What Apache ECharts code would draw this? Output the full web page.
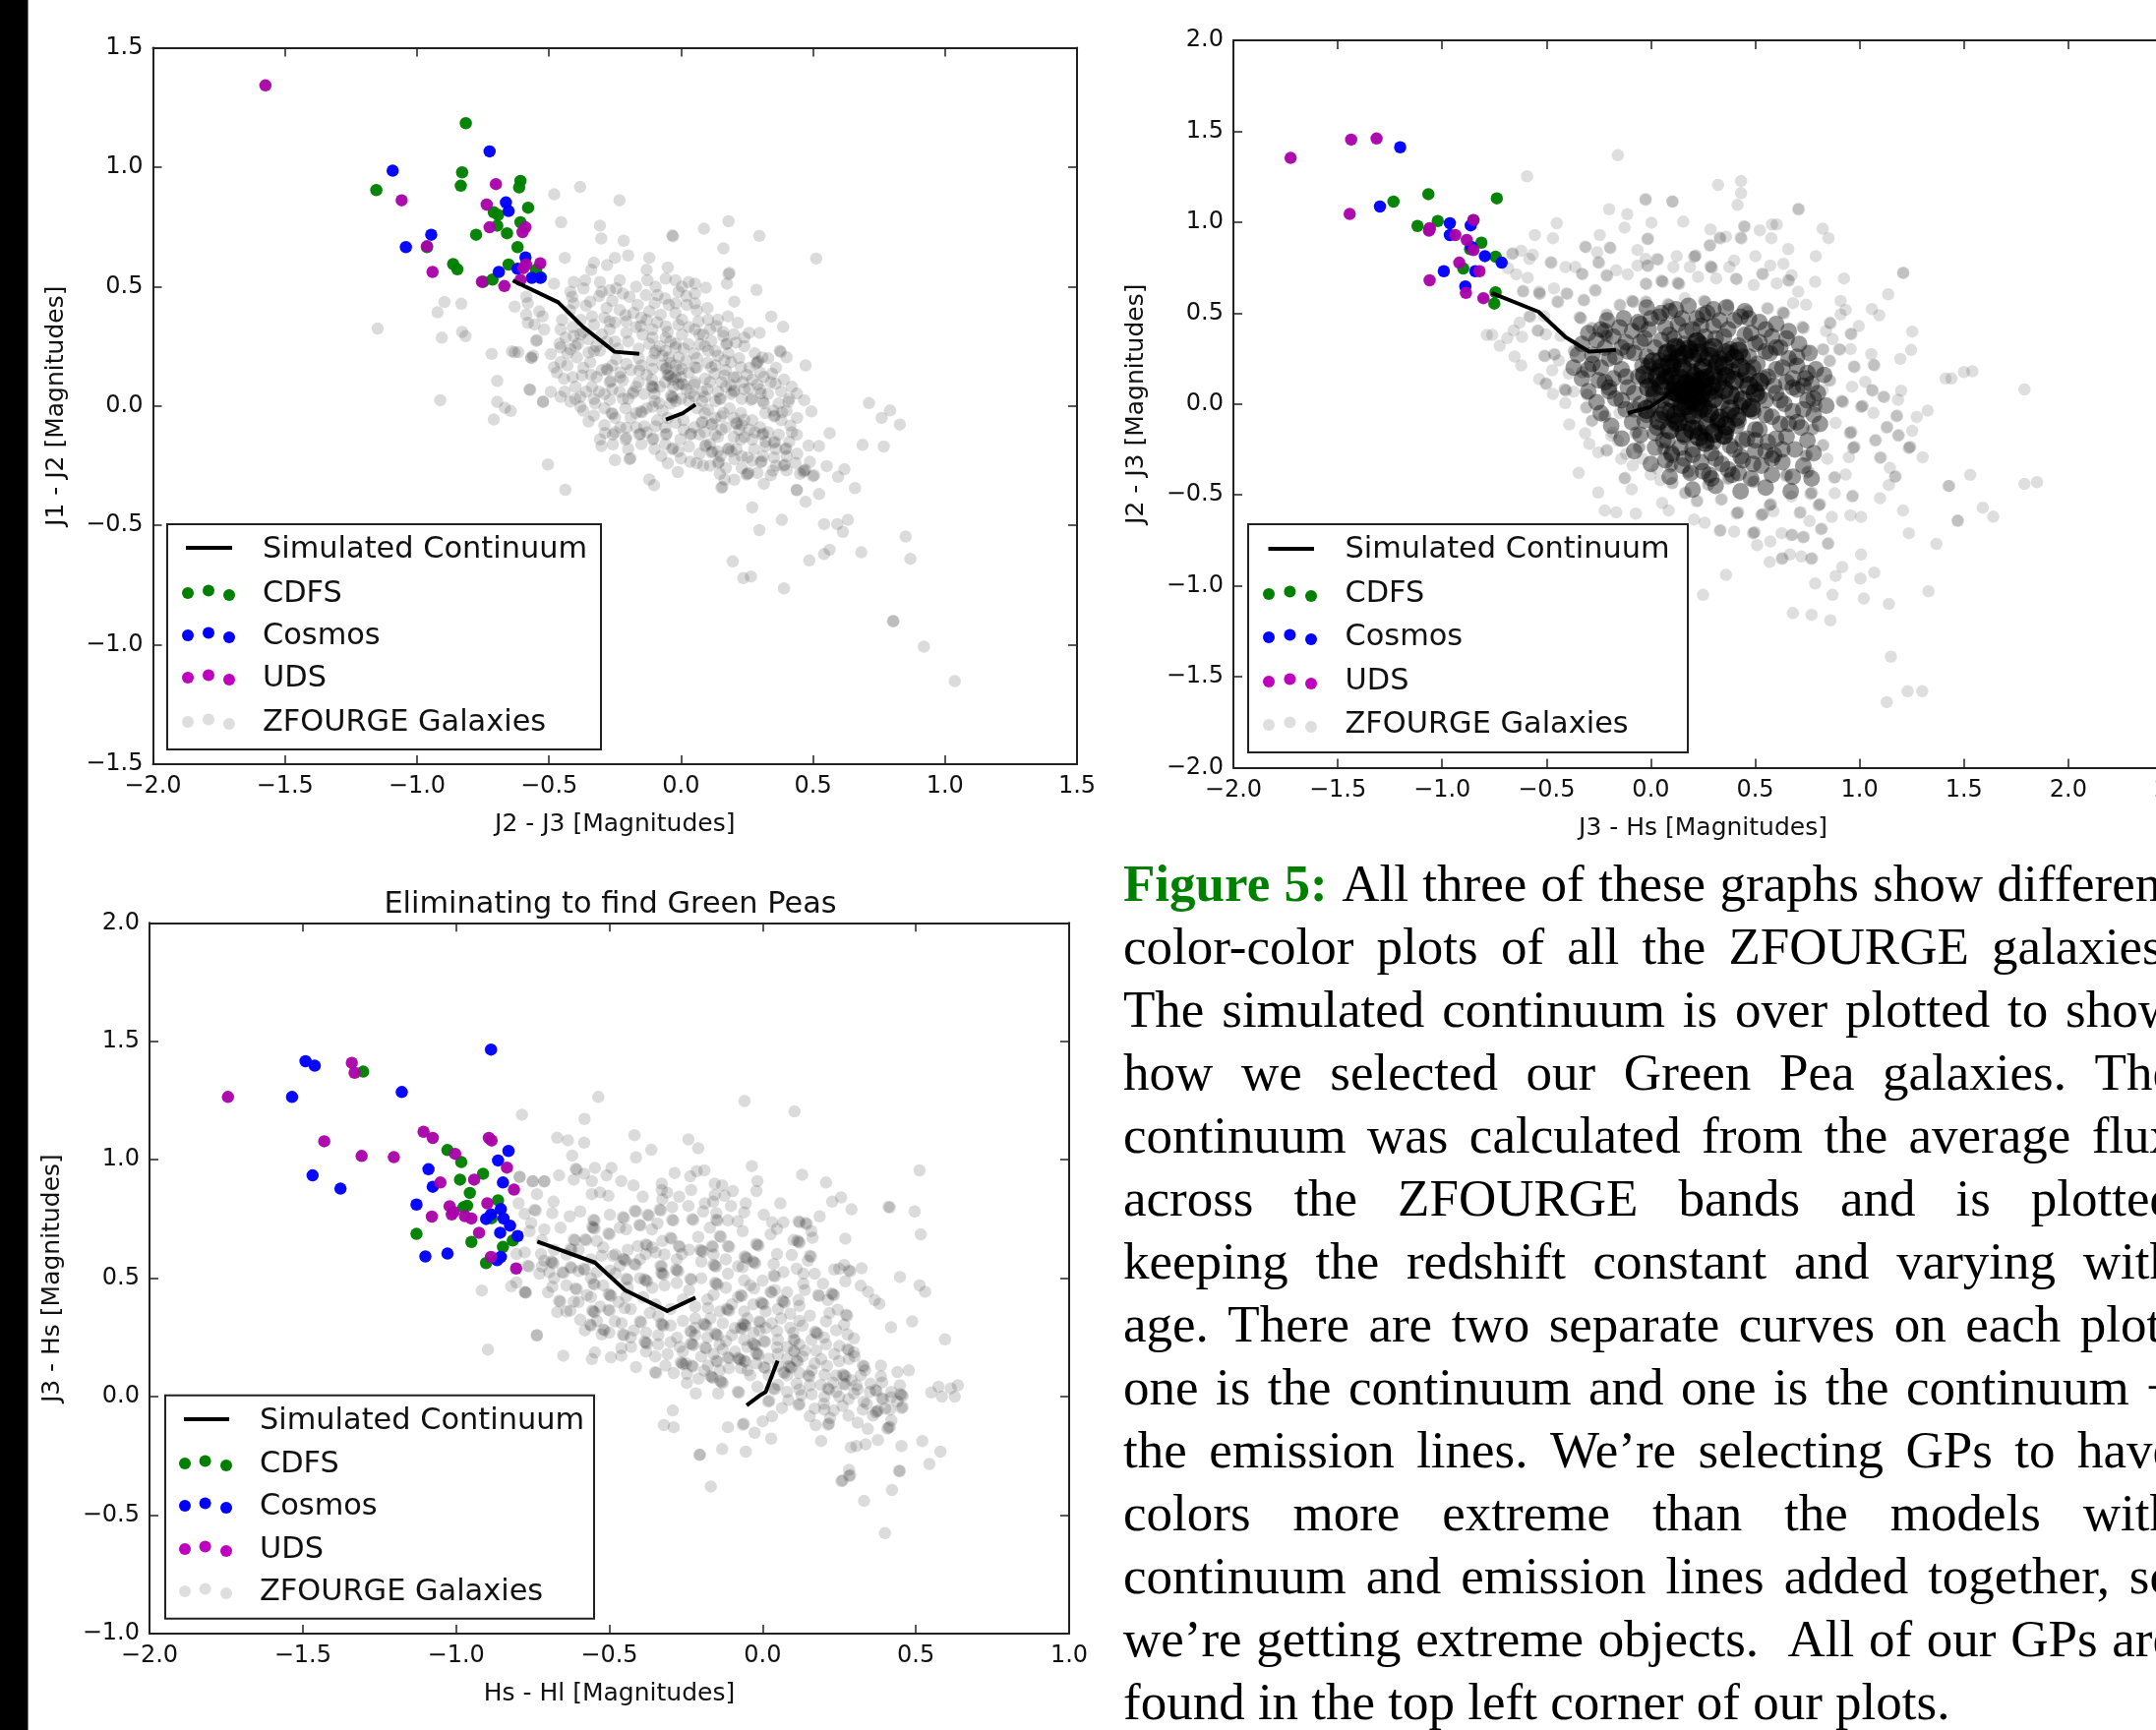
<!DOCTYPE html>
<html><head><meta charset="utf-8">
<style>html,body{margin:0;padding:0;background:#fff;overflow:hidden}#c{width:2192px;height:1759px}</style>
<script src="https://cdn.jsdelivr.net/npm/echarts@6/dist/echarts.min.js"></script>
</head><body><div id="c"></div>
<script>
// ---------- Plot 1: J2-J3 vs J1-J2 ----------
const cdfs1=[[-.815,1.184],[-.829,.978],[-.834,.922],[-.608,.942],[-.613,.915],[-.579,.83],[-1.154,.904],[-.709,.811],[-.693,.8],[-.696,.755],[-.608,.769],[-.659,.723],[-.776,.717],[-.619,.665],[-.962,.665],[-.863,.594],[-.847,.572],[-.653,.592],[-.549,.57],[-.53,.538],[-.749,.52],[-.714,.529]];
const cosmos1=[[-.725,1.066],[-1.092,.985],[-.663,.852],[-.653,.816],[-.946,.717],[-1.042,.665],[-.589,.622],[-.69,.561],[-.619,.574],[-.565,.536],[-.533,.536]];
const uds1=[[-1.574,1.342],[-.701,.929],[-1.058,.861],[-.736,.843],[-.725,.748],[-.6,.728],[-.589,.748],[-.962,.669],[-.941,.561],[-.587,.592],[-.597,.577],[-.533,.597],[-.608,.527],[-.754,.52],[-.669,.502]];
const curveA1=[[-.637,.525],[-.465,.434],[-.372,.332],[-.252,.227],[-.158,.218]];
const curveB1=[[-.057,-.057],[.007,-.03],[.055,.006]];
const galaxies1=[-1.149,.324,-.896,.435,-.832,.428,-.922,.392,-.906,.286,-.829,.31,-.816,.292,-.912,.024,-.717,.218,-.64,.229,-.616,.225,-.566,.2,-.696,.105,-.571,.067,-.696,.017,-.709,-.057,-.667,-.008,-.645,-.021,-.523,.017,-.504,-.245,-.438,-.351,-.48,.886,-.382,.917,-.233,.861,-.454,.769,-.307,.755,-.302,.701,-.217,.692,-.033,.714,-.03,.71,.087,.742,.18,.773,.297,.712,.512,.617,.161,.66,.18,.552,.184,.557,.286,.486,.342,.374,.387,.331,.374,.231,.378,.226,.4,.204,.472,.17,.467,.024,.494,-.023,.712,.012,.76,-.05,.792,-.019,.829,-.078,.688,-.163,.768,-.17,.563,-.114,.523,-.168,.483,-.166,.552,-.252,.619,-.265,.595,-.297,.659,-.344,.438,-.351,.523,-.369,.472,-.401,.27,-.425,.382,-.477,.297,-.52,.542,-.495,.592,-.495,.632,-.477,.613,-.527,.196,-.651,.236,-.721,.265,-.714,.39,-.764,.486,-.647,.542,-.62,.563,-.602,.683,-.613,.851,-.547,.869,-.64,.803,-.902,.805,-.9,.92,-1.008,1.037,-1.152,
-.44,.62,-.33,.6,-.34,.57,-.28,.59,-.25,.62,-.12,.62,-.13,.57,-.05,.58,-.2,.63,.174,.512,.094,.495,.053,.512,.029,.519,-.021,.526,-.058,.533,.053,.471,-.009,.478,.004,.499,-.096,.499,-.127,.526,-.17,.499,-.232,.526,-.245,.492,-.307,.519,-.301,.478,-.363,.526,-.406,.519,-.481,.512,-.419,.478,-.369,.492,-.27,.485,-.195,.457,-.133,.464,-.089,.464,.202,.437,-.046,.423,.022,.423,.053,.43,
-.412,.457,-.406,.43,-.344,.437,-.282,.41,-.164,.423,-.12,.396,-.077,.382,-.021,.389,.004,.361,-.232,.402,-.337,.375,-.27,.354,-.207,.354,-.152,.334,-.108,.32,-.058,.334,.066,.354,.103,.361,.14,.361,.178,.375,.215,.348,.134,.334,-.586,.457,-.58,.43,-.586,.382,-.524,.375,-.58,.348,-.518,.32,-.456,.32,-.63,.416,-.555,.341,-.537,.396,-.549,.272,-.545,.276,-.63,.224,-.568,.203,-.56,.21,
-.381,.299,-.406,.293,-.437,.286,-.456,.245,-.493,.217,-.419,.238,-.35,.224,-.307,.231,-.27,.32,-.207,.306,-.145,.299,-.108,.286,-.058,.286,.004,.299,.053,.32,.084,.299,.115,.272,.16,.293,.171,.258,.175,.262,.24,.286,.258,.306,.298,.306,.209,.265,-.021,.245,.029,.258,.072,.258,.103,.231,-.058,.231,-.096,.231,
-.481,.162,-.456,.183,-.394,.203,-.344,.183,-.282,.155,-.278,.15,-.245,.196,-.207,.176,-.158,.148,-.108,.155,-.046,.203,-.009,.203,-.058,.155,-.054,.16,-.046,.128,-.04,.122,.004,.155,.053,.162,.115,.162,.165,.19,.19,.183,.128,.135,.165,.128,.227,.162,.289,.183,.285,.178,.293,.187,.308,.203,.345,.135,.314,.121,.358,.093,.234,.1,.19,.087,.153,.1,.091,.114,.053,.1,.004,.093,-.108,.08,-.104,.076,-.112,.084,-.17,.08,-.22,.107,-.27,.1,-.265,.105,-.319,.121,-.375,.128,-.443,.114,-.4,.08,-.337,.08,
-.574,.069,-.493,.059,-.456,.038,-.522,.018,-.419,.018,-.381,.038,-.381,-.003,-.325,.011,-.27,.025,-.183,.052,-.232,.059,-.083,.011,-.034,.038,-.03,.033,-.038,.043,.035,.052,.091,.038,.147,.032,.15,.028,.202,.066,.258,.073,.302,.052,.439,.052,.407,.018,.314,.011,.265,.025,.184,-.01,.227,-.03,.209,-.071,.212,-.075,.153,-.044,.103,-.016,-.152,-.023,-.148,-.027,-.263,-.03,-.259,-.034,-.108,-.003,-.35,-.065,.352,-.044,.356,-.04,.383,-.026,
.414,-.082,.439,-.12,.308,-.12,.312,-.116,.24,-.058,.078,-.071,.082,-.067,.115,-.078,.119,-.074,.153,-.099,.035,-.12,.039,-.116,-.058,-.12,-.054,-.116,-.108,-.14,-.104,-.136,-.158,-.12,-.154,-.116,-.207,-.092,-.139,-.085,-.096,-.085,-.288,-.113,-.307,-.14,-.258,-.12,-.301,-.168,-.258,-.161,-.207,-.133,-.034,-.181,-.03,-.177,-.002,-.14,.091,-.168,.095,-.164,.115,-.195,.119,-.191,.178,-.181,.182,-.177,.227,-.14,.277,-.181,.258,-.099,.352,-.154,.356,-.15,.395,-.181,.399,-.177,.32,-.168,
-.075,-.209,.035,-.234,.084,-.25,.14,-.239,.144,-.235,.202,-.223,.252,-.216,.302,-.236,.306,-.232,.352,-.216,.389,-.25,.393,-.246,.434,-.239,.488,-.234,.467,-.271,.471,-.267,.463,-.275,.5,-.294,.504,-.29,.451,-.284,.348,-.271,.252,-.284,.256,-.28,.248,-.288,.202,-.309,.165,-.309,.147,-.284,.153,-.343,.157,-.339,-.012,-.277,-.195,-.223,-.191,-.219,-.25,-.227,-.12,-.308,-.102,-.332,.314,-.326,.439,-.353,
-.02,.12,.01,.09,-.06,.1,-.1,.05,-.02,.02,.03,.14,-.07,.17,-.13,.13,-.02,.17,.05,.04,-.16,.1,-.23,.14,-.03,.08,.08,.02,-.2,.03,.1,.07,.13,.02,.19,.05,.23,.03,.06,.2,-.02,.26,-.1,.22,-.16,.2,-.25,.27,-.3,.3,-.33,.23,-.4,.25,.14,.21,.2,.12,.27,.11,.3,.07,.22,-.1,.14,-.13,.07,-.12,.01,-.06,-.05,-.05,-.19,-.05,-.23,-.09,-.31,.06,.32,-.03,.27,-.14,.21,-.18,.14,-.19,
-.42,.4,-.38,.36,-.36,.42,-.31,.46,-.26,.44,-.22,.47,-.18,.39,-.15,.37,-.1,.43,-.06,.45,-.02,.43,.02,.46,.06,.4,.1,.41,-.45,.36,-.41,.33,-.37,.31,-.33,.34,-.29,.37,-.25,.35,-.21,.38,-.17,.33,-.13,.36,-.09,.35,-.05,.31,-.01,.34,.03,.33,.07,.3,.11,.32,.16,.31,.2,.3,.24,.25,.28,.22,.33,.2,.36,.16,.39,.11,.42,.08,
-.46,.26,-.43,.22,-.39,.26,-.35,.28,-.32,.25,-.28,.27,-.24,.24,-.2,.27,-.16,.24,-.12,.26,-.08,.25,-.04,.27,.01,.24,.05,.22,.09,.25,.13,.23,.18,.22,.22,.2,.26,.16,.3,.14,.34,.1,.38,.06,.41,.03,
-.47,.14,-.43,.17,-.41,.12,-.37,.16,-.34,.13,-.3,.15,-.26,.17,-.23,.12,-.19,.15,-.15,.17,-.11,.19,-.07,.21,-.04,.18,-.01,.15,.02,.19,.06,.16,.1,.18,.13,.17,.17,.15,.21,.12,.25,.13,.29,.09,.33,.05,.37,.01,.4,-.02,.44,-.05,
-.44,.06,-.4,.03,-.36,.06,-.33,.03,-.29,.05,-.26,.07,-.22,.03,-.18,.06,-.14,.05,-.11,.11,-.08,.08,-.05,.13,-.03,.11,0,.12,-.01,.09,.02,.07,.05,.09,.08,.06,.11,.1,.14,.06,.17,.08,.2,.06,.24,.07,.27,.03,.31,.02,.35,-.02,.38,-.06,.42,-.11,
-.37,-.02,-.33,-.04,-.29,-.01,-.25,-.05,-.21,-.01,-.17,-.03,-.13,-.01,-.1,.02,-.07,-.02,-.04,.01,0,.03,.03,.02,.06,-.01,.09,-.03,.13,-.05,.16,-.03,.2,-.05,.23,-.08,.27,-.06,.3,-.09,.33,-.11,.37,-.12,.41,-.15,
-.29,-.08,-.25,-.11,-.21,-.14,-.17,-.09,-.13,-.11,-.09,-.06,-.06,-.09,-.02,-.07,.01,-.1,.05,-.09,.09,-.11,.13,-.12,.17,-.09,.2,-.13,.24,-.13,.28,-.11,.32,-.15,.36,-.18,.4,-.21,.44,-.2,
-.2,-.18,-.15,-.16,-.1,-.18,-.06,-.16,-.01,-.19,.03,-.17,.07,-.2,.11,-.16,.15,-.21,.19,-.19,.23,-.21,.27,-.23,.31,-.21,.36,-.25,.4,-.27,
-.05,-.24,0,-.22,.06,-.24,.11,-.25,.17,-.26,.23,-.26,.29,-.28,.34,-.29];
// ---------- Plot 2: J3-Hs vs J2-J3 ----------
const cdfs2=[[-1.233,1.113],[-1.066,1.154],[-.738,1.131],[-1.118,.979],[-1.021,1.006],[-.85,1.01],[-.812,.887],[-.866,.852],[-.744,.81],[-.899,.745],[-.744,.614],[-.75,.552],[-1.06,.96]];
const cosmos2=[[-1.201,1.412],[-1.298,1.086],[-.963,.994],[-.863,.982],[-.963,.929],[-.86,.864],[-.795,.813],[-.715,.777],[-.992,.73],[-.841,.73],[-.889,.647]];
const uds2=[[-1.726,1.353],[-1.436,1.454],[-1.314,1.46],[-1.443,1.045],[-1.063,.953],[-1.06,.967],[-.85,1.012],[-.937,.929],[-.882,.902],[-.85,.846],[-.918,.777],[-.821,.73],[-1.06,.68],[-.886,.611],[-.802,.582]];
const curveA2=[[-.763,.611],[-.538,.507],[-.409,.368],[-.296,.288],[-.167,.297]];
const curveB2=[[-.11,-.05],[-.006,-.018],[.068,.039],[.12,.09]];
const galaxies2=[-.158,1.368,-.593,1.252,.322,1.205,.432,1.226,.432,1.16,.415,1.095,-.026,1.128,.103,1.113,-.2,1.071,-.113,1.044,.709,1.071,.003,.997,.155,1.003,-.451,.994,-.126,.97,-.025,1.122,.104,1.114,.706,1.072,-.556,.929,-.469,.912,-.245,.929,.286,.96,.446,.978,.45,.974,.522,.955,.58,.987,.603,.987,.823,.964,.851,.912,.577,.912,.329,.915,.333,.91,.36,.92,.43,.915,.434,.91,.281,.87,.285,.875,-.017,.906,-.013,.91,-.315,.866,-.311,.862,-.197,.861,-.193,.857,-.064,.847,.658,.852,.79,.813,.501,.813,.211,.813,.215,.817,.207,.809,.124,.813,-.025,.798,.03,.798,.034,.794,-.566,.821,-.621,.843,-.665,.825,-.661,.829,-.582,.798,-.48,.78,-.476,.776,-.257,.834,-.252,.78,-.248,.776,-.409,.753,-.362,.753,-.064,.762,-.017,.762,-.013,.758,.289,.753,.293,.749,.285,.757,.187,.753,.108,.753,.376,.753,.572,.762,.635,.771,.925,.69,1.208,.722,.787,.672,.674,.708,.658,.681,.662,.677,.533,.717,.537,.713,.399,.789,
-.684,.747,-.645,.713,-.59,.694,-.614,.618,-.61,.622,-.535,.618,-.464,.636,-.331,.717,-.327,.713,-.268,.627,-.264,.623,-.213,.708,-.209,.704,-.166,.735,-.111,.713,-.025,.663,-.021,.659,.054,.675,.058,.671,.05,.679,.132,.663,.136,.659,.128,.667,.226,.699,.313,.69,.407,.69,.411,.686,.493,.654,.603,.663,.706,.618,1.137,.603,.909,.567,.744,.546,.681,.555,1.059,.522,1.094,.488,.933,.518,.909,.492,1.252,.398,.996,.428,.957,.387,.961,.383,.857,.447,.861,.443,1.247,.297,1.195,.248,1.056,.275,.957,.302,1.067,.216,1.071,.212,.972,.207,.976,.203,1.412,.14,1.5,.176,1.199,.073,1.184,.023,1.114,.041,1.118,.037,1.027,.122,1.326,-.037,1.274,-.071,1.176,-.068,1.18,-.064,1.252,-.148,1.129,-.13,1.133,-.126,1.184,-.175,1.188,-.171,1.239,-.239,1.243,-.235,1.235,-.243,1.302,-.293,1.169,-.401,1.173,-.397,1.14,-.446,1.098,-.297,1.102,-.293,1.145,-.352,1.425,-.451,1.098,-.518,.964,-.509,.968,-.505,.949,-.293,.972,-.239,.976,-.235,.968,-.243,.957,-.157,.961,-.153,.953,-.161,1.074,-.202,1.078,-.198,1.208,-.586,.956,-.612,1.007,-.621,.867,-.621,.881,-.491,.933,-.388,.878,-.406,.882,-.402,1.47,-.644,1.236,-.711,1.368,-.77,1.007,-.828,.917,-.897,.885,-.946,1.004,-.96,1.07,-.927,.787,-.987,1.79,.08,1.85,-.43,1.79,-.44,1.54,.18,1.44,.14,1.53,-.39,1.43,-.45,1.59,-.57,1.47,-.64,1.64,-.62,1.21,.72,1.13,-1.64,1.15,-1.39,1.23,-1.58,1.3,-1.58,1.33,-1.03,.68,-1.15,.77,-1.16,.86,-1.19,.87,-1.05,1.14,-1.1,1.02,-1.07,.25,-1.05,.36,-.94,
.847,-.77,.851,-.766,.768,-.852,.772,-.848,.721,-.839,.666,-.828,.627,-.852,.631,-.848,.569,-.869,.572,-.756,.509,-.776,.627,-.711,.674,-.722,.678,-.718,.729,-.734,.733,-.73,.815,-.689,.819,-.685,.76,-.644,.493,-.708,.497,-.704,.489,-.712,.399,-.702,.33,-.698,.334,-.694,.258,-.653,.207,-.635,.415,-.599,.419,-.595,.411,-.603,.533,-.608,.537,-.604,.529,-.612,.587,-.59,.713,-.599,.717,-.595,.807,-.554,.811,-.55,.803,-.558,.768,-.491,.772,-.487,.764,-.495,.674,-.509,.572,-.554,.576,-.55,.568,-.558,.336,-.527,.34,-.523,.219,-.536,.223,-.532,.085,-.586,.054,-.545,-.072,-.603,-.166,-.596,-.221,-.586,-.252,-.487,-.346,-.379,-.092,-.469,-.127,-.41,-.123,-.406,-.001,-.388,.046,-.419,.101,-.437,.105,-.433,.163,-.491,.167,-.487,
-.391,-.112,-.315,-.161,-.295,-.22,-.252,-.266,-.213,-.257,-.209,-.253,-.142,-.302,-.087,-.338,-.04,-.302,.03,-.356,.093,-.347,.097,-.343,-.284,-.094,-.28,-.09,-.19,-.175,-.158,-.202,-.119,-.275,
-.535,.136,-.504,.113,-.5,.109,-.469,.055,-.41,.005,-.41,.077,-.406,.073,-.414,.081,-.37,.068,-.307,.053,-.303,.049,-.311,-.022,-.307,-.018,-.394,.167,-.653,.261,-.621,.212,-.724,.32,-.786,.38,-.76,.38,-.688,.362,-.657,.405,-.617,.369,-.629,.447,-.582,.483,-.578,.479,-.543,.405,-.539,.401,-.503,.383,-.511,.266,-.507,.262,-.464,.275,-.46,.271,-.441,.239,-.473,.185,-.37,.293,-.366,.289,-.331,.176,-.327,.172,-.433,.374,-.511,.483,-.448,.564,-.444,.56,-.535,.609,-.531,.605,-.404,.609,-.4,.605,-.338,.474,-.334,.47,-.342,.478,-.323,.573,-.319,.569,-.213,.492,-.209,.488,-.284,.419,-.28,.415,-.213,.374,-.209,.37,-.217,.378,-.15,.546,-.146,.542,-.087,.564,-.083,.56,-.091,.568,-.025,.564,-.021,.56,.085,.546,.089,.542,.081,.55,.163,.582,.258,.564,.262,.56,.254,.568,.368,.546,.372,.542,.462,.51,.466,.506,.557,.528,.561,.524,.635,.501,.639,.497,.631,.505,.729,.42,.733,.416,.725,.424,.839,.401,.823,.302,.827,.298,.902,.302,.906,.298,.87,.357,.744,.293,.681,.239,.855,.239,.859,.235,.964,.095,1.059,.077,1.063,.073,.917,.014,.921,.01,.913,.018,1.011,-.013,1.015,-.009,1.007,-.017,1.066,-.049,.823,.077,.855,.131,.859,.127,.885,-.104,.791,-.013,.795,-.009,.787,-.017,.776,-.139,.78,-.135,.772,-.143,.823,-.229,.827,-.225,.744,-.284,.748,-.28,.74,-.288,.752,-.374,.756,-.37,.748,-.378,.846,-.302,.65,-.392,.654,-.388,.646,-.396,.493,-.428,.497,-.424,.489,-.432,.372,-.41,.376,-.406,.368,-.414,.273,-.446,.277,-.442,.18,-.374,.184,-.37,.176,-.378,.101,-.338,.105,-.334,.061,-.248,.065,-.244,.057,-.252,-.056,-.239,-.052,-.235,-.06,-.243,-.072,-.157,-.068,-.153,-.076,-.161,-.182,-.157,-.221,-.067,-.217,-.063,-.225,-.071,-.15,-.049];
const galaxiesMid2=[-.28,.27,-.22,.31,-.17,.26,-.12,.34,-.08,.28,-.03,.36,.02,.31,.07,.42,.11,.36,.15,.47,.2,.41,.25,.49,.3,.43,.35,.37,.4,.46,.45,.38,.5,.33,.55,.41,.6,.31,.65,.36,.7,.26,.75,.17,.63,.2,.68,.09,.73,-.03,.66,-.11,.6,-.19,.55,-.26,.49,-.33,.43,-.29,.37,-.36,.31,-.3,.25,-.37,.2,-.28,.14,-.24,.08,-.2,.02,-.16,-.03,-.09,-.08,-.03,-.14,.02,-.2,.07,-.25,.13,-.3,.19,-.24,.2,-.18,.14,-.11,.09,-.06,.15,-.01,.21,.04,.24,.1,.28,.16,.33,.22,.35,.28,.3,.33,.25,.38,.3,.44,.26,.49,.2,.54,.14,.59,.1,.52,.04,.47,-.03,.42,-.09,.36,-.15,.3,-.21,.24,-.16,.18,-.11,.11,-.09,.05,-.06,0,-.01,.55,-.06,.5,-.14,.44,-.2,.38,-.23,.32,-.09,.62,.02,-.05,.44,0,.47,.05,.5,.12,.52,-.15,.42,-.22,.4,.24,.43,.3,.52,.47,.47,.55,.29,.68,.14,.73,.1,.78,.03,.77,.11,.7,-.1,.63,-.25,.58,-.3,.5,-.2,.42,-.38,.28,-.39,.16,-.3,.1,-.28,
-.02,.53,.09,.51,.18,.54,.27,.5,.36,.53,.45,.51,-.21,.46,-.13,.47,-.06,.45,.04,.48,.13,.44,.22,.47,.33,.46,.43,.48,.52,.45,.6,.44,-.3,.39,-.24,.41,-.18,.37,-.09,.4,-.01,.41,.09,.38,.17,.4,.26,.37,.37,.41,.48,.39,.58,.37,.66,.4,-.33,.33,-.26,.35,-.14,.31,-.05,.34,.05,.35,.13,.31,.24,.33,.31,.36,.42,.32,.52,.34,.62,.31,.71,.33,-.35,.27,-.2,.25,-.11,.29,-.02,.26,.07,.28,.19,.29,.26,.25,.38,.28,.47,.26,.57,.28,.66,.25,.76,.28,-.37,.2,-.28,.22,-.14,.19,-.04,.21,.03,.18,.11,.22,.24,.19,.31,.21,.39,.18,.51,.22,.6,.19,.7,.21,.79,.19,-.33,.14,-.22,.12,-.12,.15,-.02,.13,.07,.15,.17,.12,.27,.14,.36,.16,.44,.13,.56,.15,.65,.12,.74,.14,.83,.16,-.3,.07,-.2,.09,-.08,.06,.01,.08,.11,.06,.21,.09,.31,.07,.41,.05,.5,.08,.6,.06,.7,.08,.8,.06,-.26,.01,-.17,.03,-.05,0,.05,.02,.14,0,.24,.03,.34,.01,.43,-.01,.55,.02,.64,0,.75,.02,.84,-.01,-.24,-.05,-.12,-.03,-.02,-.06,.09,-.04,.18,-.06,.28,-.03,.37,-.06,.49,-.04,.58,-.07,.68,-.04,.78,-.06,-.19,-.12,-.09,-.1,.03,-.13,.12,-.11,.22,-.13,.32,-.1,.41,-.12,.52,-.14,.62,-.11,.72,-.13,.81,-.11,-.14,-.19,-.05,-.17,.06,-.2,.16,-.18,.26,-.2,.35,-.18,.46,-.19,.56,-.21,.65,-.18,.75,-.2,-.08,-.26,.02,-.24,.1,-.27,.2,-.25,.29,-.27,.4,-.25,.5,-.26,.59,-.28,.69,-.25,.78,-.27,0,-.33,.07,-.31,.15,-.34,.24,-.32,.34,-.33,.44,-.31,.53,-.34,.63,-.32,.73,-.34,.09,-.4,.19,-.38,.29,-.41,.39,-.39,.48,-.41,.58,-.39,.68,-.4,.77,-.41,.2,-.47,.31,-.45,.43,-.48,.55,-.46,.67,-.48];
const galaxiesCore2=[.05,.1,.1,.15,.15,.2,.2,.25,.25,.2,.3,.16,.35,.21,.4,.13,.35,.08,.3,.03,.25,-.02,.2,-.06,.15,-.02,.1,.03,.15,.08,.2,.12,.25,.09,.21,.05,.18,.02,.12,.11,.05,.2,.08,.28,.16,.27,.28,.26,.36,.28,.43,.2,.47,.1,.44,.02,.38,-.03,.33,-.08,.27,-.12,.2,-.14,.13,-.1,.07,-.04,.02,.05,.24,.13,.19,.17,.22,.01,.29,.1,.1,.2,
.17,.11,.22,.09,.19,.08,.24,.05,.14,.14,.21,.15,.26,.14,.16,.05,.13,.06,.27,.06,.2,.02,.17,-.01,.23,-.03,.28,-.05,.32,.12,.36,.15,.38,.05,.11,.07,.07,.13,.03,.15,.09,.22,.13,.25,.18,.3,.23,.28,.32,.22,.4,.25,.46,.17,.5,.06,.48,-.02,.41,-.07,.36,-.12,.3,-.16,.23,-.18,.16,-.16,.09,-.14,.04,-.09,-.02,-.03,-.01,.09,-.03,.16,.01,.23,.12,.31,.22,.34,.3,.31,.42,.29,.52,.12,.35,-.17,.26,-.21,.12,-.06];
// ---------- Plot 3: Hs-Hl vs J3-Hs ----------
const cdfs3=[[-1.303,1.372],[-1.028,1.041],[-.983,.99],[-.987,.916],[-.912,.941],[-.955,.86],[-.863,.829],[-.976,.799],[-.964,.806],[-1.129,.687],[-.95,.653],[-.847,.632],[-.815,.659],[-.902,.564],[-.884,.753]];
const cosmos3=[[-.886,1.465],[-1.491,1.416],[-1.461,1.397],[-1.535,1.265],[-1.177,1.286],[-.829,1.037],[-.863,.997],[-1.09,.96],[-1.076,.886],[-.847,.904],[-1.468,.934],[-1.377,.878],[-1.129,.811],[-.854,.792],[-.886,.769],[-.902,.75],[-.845,.752],[-.824,.722],[-.856,.692],[-.799,.678],[-1.1,.592],[-1.028,.604],[-.854,.59],[-.866,.576]];
const uds3=[[-1.744,1.265],[-1.34,1.409],[-1.331,1.367],[-1.43,1.078],[-1.308,1.016],[-1.203,1.011],[-1.106,1.118],[-1.076,1.092],[-1.003,1.025],[-.893,1.092],[-.884,1.081],[-.834,.967],[-.941,.916],[-1.051,.904],[-.811,.874],[-.898,.816],[-1.021,.804],[-1.014,.769],[-1.008,.78],[-1.079,.76],[-.971,.762],[-.95,.752],[-.925,.692],[-.886,.59],[-.804,.541]];
const curveA3=[[-.735,.655],[-.547,.566],[-.449,.45],[-.311,.362],[-.219,.418]];
const curveB3=[[-.052,-.036],[-.006,.008],[.01,.02],[.049,.152]];
const galaxies3=[-.67,1.093,-.635,1.082,-.582,1.072,-.418,1.104,-.363,1.042,-.242,1.086,-.21,1.049,-.413,1.01,-.621,1.017,-.61,.962,-.606,.958,-.547,.966,-.493,.966,-.509,.934,-.582,.941,-.616,.916,-.664,.934,-.712,.91,-.75,.91,-.793,.927,-.557,.91,-.461,.91,-.421,.892,-.287,.944,-.236,.93,-.215,.952,-.19,.955,-.035,.973,.129,.937,.207,.904,.512,.955,-.017,.91,-.02,.868,-.156,.899,-.132,.892,-.097,.868,-.124,.848,-.156,.851,-.329,.899,-.329,.872,-.311,.861,-.233,.872,-.272,.844,-.391,.844,-.327,.833,-.557,.855,-.53,.862,-.503,.848,-.736,.855,-.682,.823,-.796,.816,-.161,.823,-.188,.816,-.055,.816,.058,.816,-.103,.805,-.242,.805,-.295,.8,.256,.841,.227,.823,.29,.791,.411,.802,.415,.798,.496,.782,.516,.685,-.336,.79,-.332,.786,-.417,.785,-.413,.781,-.375,.768,-.371,.764,-.456,.758,-.452,.754,-.498,.768,-.595,.782,-.552,.747,-.548,.743,-.552,.713,-.548,.709,-.556,.717,-.629,.761,-.686,.775,-.744,.789,-.74,.785,-.776,.772,-.755,.733,-.712,.706,-.659,.713,-.76,.699,-.194,.782,-.151,.775,-.06,.778,.004,.768,.186,.761,.117,.74,.121,.736,.14,.733,.144,.729,.031,.736,.068,.736,.047,.708,-.113,.744,-.081,.74,-.151,.747,-.147,.743,-.172,.713,-.23,.75,-.226,.746,-.295,.747,-.291,.743,-.402,.726,-.398,.722,-.343,.731,-.466,.713,-.445,.706,-.503,.689,-.499,.685,-.361,.706,-.065,.699,.159,.699,.026,.685,.163,.671,.27,.667,-.21,.674,-.14,.678,-.136,.674,
-.541,.657,-.616,.664,-.612,.66,-.579,.664,-.575,.66,-.407,.636,-.381,.643,-.377,.639,-.301,.671,-.297,.667,-.274,.636,-.27,.632,-.327,.657,-.166,.636,-.162,.632,-.113,.636,-.109,.632,-.017,.641,-.013,.637,-.021,.645,.117,.654,.121,.65,.113,.658,.101,.661,-.199,.616,-.195,.612,-.203,.62,-.349,.609,-.381,.602,-.263,.602,-.803,.602,-.776,.609,-.723,.602,-.686,.567,-.682,.563,-.69,.571,-.627,.623,-.623,.619,-.712,.574,-.766,.553,-.762,.549,-.728,.519,-.696,.526,-.653,.526,-.649,.522,-.627,.547,-.623,.543,-.584,.54,-.58,.536,-.525,.595,-.488,.595,-.451,.578,-.447,.574,-.455,.582,-.418,.56,-.414,.556,-.381,.491,-.377,.487,-.385,.495,-.327,.519,-.323,.515,-.331,.523,-.279,.533,-.275,.529,-.283,.537,-.236,.498,-.232,.494,-.333,.553,-.329,.549,-.466,.553,-.498,.533,-.445,.498,-.441,.494,-.541,.526,-.552,.477,-.548,.473,-.803,.482,-.776,.443,-.772,.439,-.686,.464,-.61,.457,-.606,.453,-.664,.405,-.66,.401,-.616,.401,-.573,.429,-.498,.429,-.494,.425,-.502,.433,-.445,.422,-.503,.367,-.499,.363,-.552,.36,-.548,.356,-.556,.364,-.595,.325,-.563,.304,-.559,.3,-.67,.357,-.627,.363,-.45,.374,-.482,.318,-.52,.284,-.516,.28,-.525,.263,-.736,.26,-.456,.263,-.452,.259,-.4,.318,-.396,.314,-.368,.353,-.327,.304,-.323,.3,-.331,.308,-.279,.249,-.381,.228,-.377,.224,-.385,.232,-.34,.221,-.429,.21,-.461,.205,-.547,.187,-.557,.159,-.495,.166,-.461,.173,-.65,.173,-.413,.125,-.351,.104,-.347,.1,-.317,.131,-.263,.141,-.259,.137,-.267,.145,-.231,.131,-.227,.127,-.247,.097,-.247,.058,-.218,.014,-.145,.014,-.209,.076,-.166,.083,-.162,.079,-.17,.087,-.134,.062,-.13,.058,-.138,.066,-.178,.131,-.151,.152,-.147,.148,-.076,.159,-.072,.155,-.08,.163,-.113,.166,-.109,.162,-.017,.18,-.013,.176,-.021,.184,-.06,.152,-.056,.148,-.049,.111,.004,.125,.008,.121,.09,.125,.094,.121,.086,.129,.068,.104,.072,.1,.111,.152,.115,.148,.138,.194,.101,.194,.105,.19,.047,.208,-.028,.221,-.024,.217,-.032,.225,.004,.235,.008,.231,.101,.242,.105,.238,.09,.291,.047,.277,-.071,.291,-.067,.287,-.151,.263,-.147,.259,-.155,.267,-.188,.304,-.184,.3,-.192,.308,-.236,.277,-.232,.273,-.23,.221,-.226,.217,-.234,.225,-.188,.208,-.184,.204,-.119,.235,-.113,.367,-.109,.363,-.117,.371,-.06,.304,-.056,.3,-.064,.308,-.012,.318,-.008,.314,-.001,.394,.003,.39,-.005,.398,.068,.401,.072,.397,.064,.405,.026,.443,.03,.439,-.071,.429,-.067,.425,-.151,.477,-.147,.473,-.155,.481,-.178,.374,-.22,.291,-.028,.457,-.06,.491,.036,.512,.04,.508,.068,.526,.133,.477,.138,.45,.17,.519,.133,.519,.111,.54,-.156,.553,-.152,.549,-.16,.557,-.113,.519,-.055,.588,-.051,.584,-.059,.592,-.028,.567,-.024,.563,-.032,.571,-.065,.547,.047,.602,.036,.56,.095,.598,.154,.595,.158,.591,.148,.574,
.25,.54,.234,.537,.266,.556,.282,.533,.286,.529,.323,.542,.448,.505,.512,.47,.53,.443,.27,.487,.32,.468,.344,.443,.366,.408,.381,.392,.197,.477,.181,.429,.185,.425,.229,.432,.233,.428,.225,.436,.213,.408,.117,.408,.12,.383,.154,.342,.218,.353,.245,.367,.272,.346,.276,.342,.207,.318,.266,.304,.175,.27,.179,.266,.171,.274,.277,.263,.298,.246,.419,.293,.488,.318,.595,.242,.25,.214,.277,.201,.281,.197,.298,.187,.234,.18,.282,.159,.207,.221,.175,.194,.191,.159,.327,.131,.331,.127,.334,.111,.386,.131,.386,.086,.44,.104,.477,.111,.266,.09,.27,.086,.262,.094,.266,.055,.27,.051,.202,.093,.24,.09,.306,.048,.352,.055,.368,.028,.372,.024,.389,-.007,.393,-.011,.448,.048,.453,.007,.457,.003,.449,.011,.419,-.003,.453,-.048,.457,-.044,.416,-.055,.373,-.062,.377,-.058,.369,-.066,.33,-.021,.327,-.055,.298,.014,.261,-.039,.25,0,.213,.035,.217,.031,.202,0,.154,.048,.149,.09,.153,.086,.111,.055,.127,.007,.117,-.035,.121,-.031,.084,-.014,.063,-.048,.031,-.083,0,-.104,-.065,-.118,-.061,-.114,-.113,-.129,-.026,-.152,.028,-.177,.018,-.021,.022,-.017,.036,.035,.04,.031,-.017,.042,-.081,.021,-.077,.017,-.293,-.058,-.322,-.12,-.29,-.129,-.204,-.245,-.132,-.221,-.055,-.232,.154,-.083,.173,-.12,.213,-.118,.217,-.114,.202,-.055,.232,-.058,.191,-.187,.288,-.214,.306,-.208,.336,-.201,.376,-.183,.343,-.136,.411,-.131,.415,-.127,.407,-.135,.453,-.208,.521,-.187,.58,-.232,.544,-.284,.448,-.314,.282,-.309,.282,-.335,.286,-.331,.261,-.353,.55,.018,.574,.042,.585,0,.614,.035,.627,0,.637,.048,.331,-.44,.399,-.576,.422,-.394,.257,-.357,.445,-.313,-.169,-.379,-.206,-.246,
-.059,1.248,.104,1.204,-.536,1.265,-.785,1.19,-.581,1.172,-.916,.448,-.896,.199,-.774,.439,-.82,.466,-.737,.259,-.792,.928,-.75,.908,-.712,.908,
-.72,.66,-.68,.62,-.64,.6,-.6,.62,-.56,.58,-.52,.63,-.48,.6,-.44,.62,-.4,.58,-.36,.63,-.32,.6,-.28,.58,-.24,.62,-.2,.57,-.16,.6,-.12,.58,-.08,.55,-.72,.55,-.68,.5,-.64,.47,-.6,.53,-.56,.5,-.52,.47,-.48,.52,-.44,.46,-.4,.5,-.36,.46,-.32,.47,-.28,.48,-.24,.45,-.2,.5,-.16,.43,-.12,.46,-.08,.42,-.04,.47,0,.49,.04,.45,.08,.44,
-.7,.44,-.64,.36,-.6,.4,-.56,.42,-.53,.38,-.47,.4,-.43,.37,-.39,.42,-.35,.39,-.3,.37,-.26,.41,-.22,.38,-.18,.41,-.14,.36,-.1,.39,-.06,.36,-.03,.39,.01,.36,.05,.37,.09,.35,.12,.32,
-.58,.28,-.54,.32,-.5,.27,-.46,.31,-.42,.28,-.38,.27,-.34,.34,-.3,.3,-.26,.32,-.22,.33,-.17,.33,-.13,.31,-.09,.29,-.05,.33,-.01,.28,.03,.31,.06,.33,.1,.27,.13,.3,
-.43,.25,-.38,.19,-.34,.26,-.3,.23,-.26,.19,-.22,.26,-.18,.25,-.14,.22,-.1,.26,-.06,.24,-.03,.27,.01,.29,.05,.24,.08,.21,.12,.22,.16,.24,.2,.25,.24,.28,
-.35,.17,-.31,.18,-.27,.21,-.2,.17,-.16,.18,-.13,.2,-.09,.19,-.05,.21,-.02,.14,.02,.16,.05,.18,.08,.16,.13,.17,.17,.14,.21,.13,.25,.15,.3,.17,
-.29,.1,-.25,.14,-.19,.11,-.14,.11,-.11,.12,-.07,.12,-.04,.09,.02,.09,.05,.13,.08,.09,.12,.1,.16,.11,.19,.05,.23,.06,.29,.07,.32,.09,.35,.02,.39,.06,.42,.02,
.05,.05,.08,.02,.12,.03,.16,.01,.2,-.03,.24,.02,.28,-.01,.31,.03,.34,-.03,.36,-.08,.4,-.05,.42,-.1,.44,-.02,.17,-.05,.22,-.09,.28,-.08,.31,-.11];
// ---------- Legend, axes and caption text ----------
const legendLabels=['Simulated Continuum','CDFS','Cosmos','UDS','ZFOURGE Galaxies'];
const xNames=['J2 - J3 [Magnitudes]','J3 - Hs [Magnitudes]','Hs - Hl [Magnitudes]'];
const yNames=['J1 - J2 [Magnitudes]','J2 - J3 [Magnitudes]','J3 - Hs [Magnitudes]'];
const plotTitle='Eliminating to find Green Peas';
const captionLines=['Figure 5: All three of these graphs show different','color-color plots of all the ZFOURGE galaxies.','The simulated continuum is over plotted to show','how we selected our Green Pea galaxies. The','continuum was calculated from the average flux','across the ZFOURGE bands and is plotted','keeping the redshift constant and varying with','age. There are two separate curves on each plot;','one is the continuum and one is the continuum +','the emission lines. We\u2019re selecting GPs to have','colors more extreme than the models with','continuum and emission lines added together, so','we\u2019re getting extreme objects.  All of our GPs are','found in the top left corner of our plots.'];

const pairs=f=>{const o=[];for(let i=0;i<f.length;i+=2)o.push([f[i],f[i+1]]);return o;};
const SANS='"DejaVu Sans"', INK='#111';
const COL={cdfs:'#008000',cosmos:'#0000ff',uds:'#aa00aa'};
const layouts=[
 {left:155.5,top:48.5,width:939.5,height:728.5,x:[-2,1.5],y:[-1.5,1.5],xGap:30,yGap:72},
 {left:1254,top:41,width:955,height:739.5,x:[-2,2.5],y:[-2,2],xGap:30,yGap:72},
 {left:152,top:938.3,width:935,height:722.7,x:[-2,1],y:[-1,2],xGap:30,yGap:72}];
const fmt=v=>v.toFixed(1).replace('-','\u2212');
const grid=[],xAxis=[],yAxis=[],series=[];
layouts.forEach((L,i)=>{
  grid.push({left:L.left,top:L.top,width:L.width,height:L.height,containLabel:false,outerBoundsMode:'none'});
  const base=(min,max)=>({type:'value',min,max,interval:.5,gridIndex:i,splitLine:{show:false},
    axisLine:{show:true,onZero:false,lineStyle:{color:'#222',width:2}},
    axisTick:{show:true,inside:true,length:9,lineStyle:{color:'#222',width:1.5}}});
  xAxis.push({...base(L.x[0],L.x[1]),position:'bottom',name:xNames[i],nameLocation:'middle',nameGap:L.xGap+19,
    nameTextStyle:{fontFamily:SANS,fontSize:25,color:INK},
    axisLabel:{fontFamily:SANS,fontSize:24,color:INK,margin:11,formatter:fmt}});
  yAxis.push({...base(L.y[0],L.y[1]),position:'left',name:yNames[i],nameLocation:'middle',nameGap:L.yGap+14,
    nameTextStyle:{fontFamily:SANS,fontSize:25,color:INK},
    axisLabel:{fontFamily:SANS,fontSize:24,color:INK,margin:10,formatter:fmt}});
  xAxis.push({...base(L.x[0],L.x[1]),position:'top',axisLabel:{show:false}});
  yAxis.push({...base(L.y[0],L.y[1]),position:'right',axisLabel:{show:false}});
});
const scatter=(name,g,data,color,opacity,size)=>({name,type:'scatter',xAxisIndex:g*2,yAxisIndex:g*2,data,symbol:'circle',symbolSize:size||12.5,
  itemStyle:{color,opacity,borderWidth:0},silent:true,progressive:0,animation:false});
const curve=(g,data)=>({type:'line',xAxisIndex:g*2,yAxisIndex:g*2,data,symbol:'none',smooth:false,silent:true,
  lineStyle:{color:'#000',width:4,join:'round'},animation:false});
series.push(scatter('g1',0,pairs(galaxies1),'#000',.14));
series.push(scatter('g2',1,pairs(galaxies2),'#000',.13));
series.push(scatter('g2m',1,pairs(galaxiesMid2),'#000',.4,17));
series.push(scatter('g2c',1,pairs(galaxiesCore2),'#000',.6,20));
series.push(scatter('g3',2,pairs(galaxies3),'#000',.14));
[[cdfs1,cosmos1,uds1,curveA1,curveB1],[cdfs2,cosmos2,uds2,curveA2,curveB2],[cdfs3,cosmos3,uds3,curveA3,curveB3]].forEach((s,g)=>{
  series.push(scatter('CDFS',g,s[0],COL.cdfs,.97));
  series.push(scatter('Cosmos',g,s[1],COL.cosmos,.97));
  series.push(scatter('UDS',g,s[2],COL.uds,.95));
  series.push(curve(g,s[3]));
  series.push(curve(g,s[4]));
});
// matplotlib-style legend boxes
const boxes=[
 {l:170,t:533,r:611,b:762,tx:267,rows:[557,602,645,688,733],lx:[189,236],dx:[191,212,233],ty:2.5},
 {l:1269,t:533,r:1716,b:765,tx:1367.5,rows:[558,603,647,692,736],lx:[1289.5,1336],dx:[1290,1311.4,1333],ty:1.5},
 {l:168,t:1418.7,r:604,b:1645.7,tx:264,rows:[1443,1487,1530,1574,1617],lx:[187,233],dx:[188,208.6,230],ty:2.5}];
const dotDy=[1,-1.5,3];
const legendDots=[['#008000',1],['#0000ff',1],['#bf00bf',1],['#000',.13]];
const graphic=[{type:'rect',z:50,shape:{x:0,y:0,width:28.5,height:1759},style:{fill:'#000'}}];
boxes.forEach(B=>{
  graphic.push({type:'rect',z:50,shape:{x:B.l,y:B.t,width:B.r-B.l,height:B.b-B.t},style:{fill:'#fff',stroke:'#222',lineWidth:2}});
  graphic.push({type:'line',z:51,shape:{x1:B.lx[0],y1:B.rows[0],x2:B.lx[1],y2:B.rows[0]},style:{stroke:'#000',lineWidth:4}});
  legendLabels.forEach((t,i)=>{
    graphic.push({type:'text',z:51,x:B.tx,y:B.rows[i]+B.ty,style:{text:t,font:'30.4px "DejaVu Sans"',fill:INK,textVerticalAlign:'middle',verticalAlign:'middle'}});
    if(i>0)B.dx.forEach((dx,k)=>graphic.push({type:'circle',z:51,shape:{cx:dx,cy:B.rows[i]+dotDy[k],r:6},style:{fill:legendDots[i-1][0],opacity:legendDots[i-1][1]}}));
  });
});
// justified caption: one text element per word
const CAP={x:1142,w:1070,y0:902.5,lh:64,size:53};
const mctx=document.createElement('canvas').getContext('2d');
captionLines.forEach((ln,i)=>{
  const words=ln.split(' ');
  const fonts=words.map((w,k)=>(i===0&&k<2?'bold ':'')+CAP.size+'px "Liberation Serif"');
  const ws=words.map((w,k)=>{mctx.font=fonts[k];return mctx.measureText(w).width;});
  const sum=ws.reduce((a,b)=>a+b,0);
  const last=i===captionLines.length-1;
  mctx.font=fonts[fonts.length-1];
  const gap=last?mctx.measureText(' ').width:(CAP.w-sum)/(words.length-1);
  let x=CAP.x;
  words.forEach((w,k)=>{
    if(w)graphic.push({type:'text',z:51,x,y:CAP.y0+i*CAP.lh,style:{text:w,font:fonts[k],fill:(i===0&&k<2)?'#008000':'#000',textVerticalAlign:'middle',verticalAlign:'middle'}});
    x+=ws[k]+gap;
  });
});
const chart=echarts.init(document.getElementById('c'),null,{renderer:'canvas',width:2192,height:1759});
chart.setOption({animation:false,backgroundColor:'#fff',
  title:{text:plotTitle,left:615.5,top:900,textAlign:'center',textStyle:{fontFamily:SANS,fontSize:30.4,fontWeight:'normal',color:INK}},
  grid,xAxis,yAxis,series,graphic});
</script></body></html>
